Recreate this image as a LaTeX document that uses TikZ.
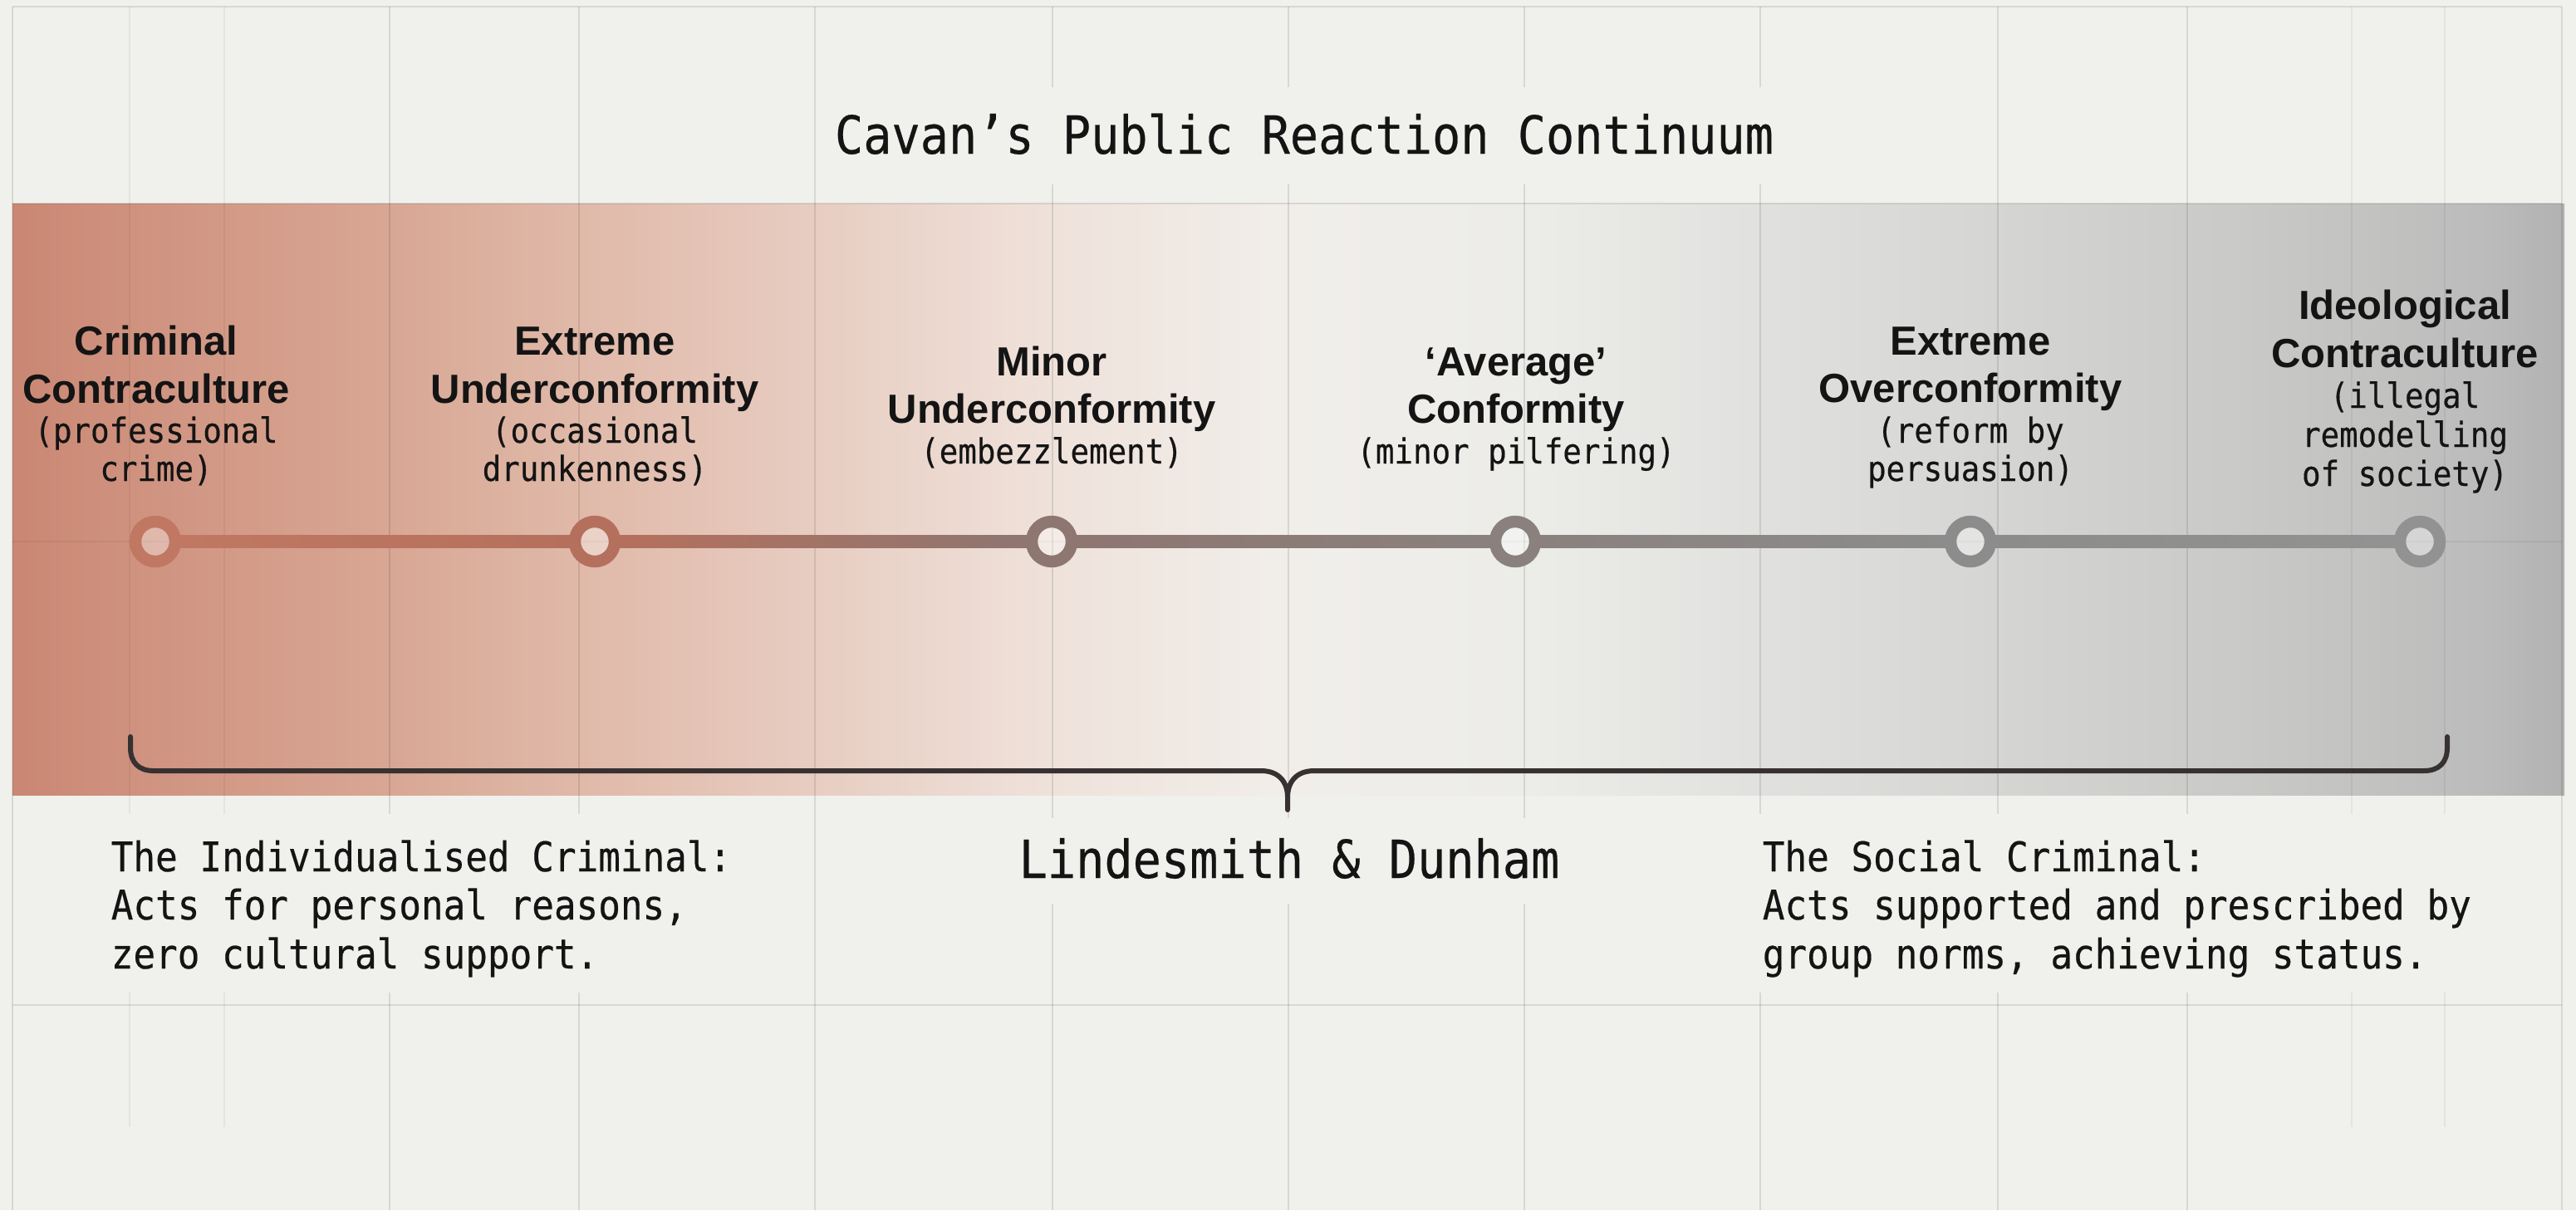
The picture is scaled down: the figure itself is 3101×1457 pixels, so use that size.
\documentclass[tikz,border=0pt]{standalone}
\usepackage{fontspec}
\setmainfont{Liberation Sans}
\newfontfamily\monof{DejaVu Sans Mono}[FakeStretch=0.9,FakeBold=0.4]
\usetikzlibrary{calc}
\definecolor{bg}{HTML}{F0F0EC}
\definecolor{ink}{HTML}{141414}
\definecolor{bracec}{HTML}{383131}
\definecolor{b0}{HTML}{CA8773}
\definecolor{b1}{HTML}{D09582}
\definecolor{b2}{HTML}{D8A794}
\definecolor{b3}{HTML}{E0B9A9}
\definecolor{b4}{HTML}{E8CEC3}
\definecolor{b5}{HTML}{EFE2DB}
\definecolor{b6}{HTML}{F1EEEA}
\definecolor{b7}{HTML}{ECECE9}
\definecolor{b8}{HTML}{E0E0DE}
\definecolor{b9}{HTML}{D5D5D3}
\definecolor{b10}{HTML}{C9C9C7}
\definecolor{b11}{HTML}{BCBCBC}
\definecolor{b12}{HTML}{B2B2B2}
\definecolor{r1}{HTML}{C07862}
\definecolor{r2}{HTML}{B5705D}
\definecolor{r3}{HTML}{8E7671}
\definecolor{r4}{HTML}{8A817E}
\definecolor{r5}{HTML}{8C8C8C}
\definecolor{r6}{HTML}{929292}
\pgfdeclarehorizontalshading{band}{100bp}{color(0bp)=(b0); color(25bp)=(b0); color(28bp)=(b1); color(32.4bp)=(b2); color(36.15bp)=(b3); color(41bp)=(b4); color(45.4bp)=(b5); color(50bp)=(b6); color(54.7bp)=(b7); color(59.4bp)=(b8); color(63.8bp)=(b9); color(68.7bp)=(b10); color(73.3bp)=(b11); color(75bp)=(b12); color(100bp)=(b12)}
\tikzset{
  gridl/.style={draw=black, draw opacity=0.10, line width=0.5pt},
  gridf/.style={draw=black, draw opacity=0.05, line width=0.5pt},
  ring/.style={circle, minimum size=12pt, inner sep=0pt, line width=3.6pt, fill=white, fill opacity=0.35},
  bracepath/.style={draw=bracec, line width=1.5pt, line cap=round},
  labtxt/.style={anchor=base, inner sep=0pt, text=ink, font=\bfseries\fontsize{12.25pt}{14pt}\selectfont},
  subtxt/.style={anchor=base, inner sep=0pt, text=ink, font=\monof\fontsize{10.4pt}{12pt}\selectfont},
  bodytxt/.style={anchor=base west, inner sep=0pt, text=ink, font=\monof\fontsize{12.3pt}{14pt}\selectfont},
  bigtxt/.style={anchor=base, inner sep=0pt, text=ink, font=\monof\fontsize{15.8pt}{18pt}\selectfont}
}
\begin{document}
\begin{tikzpicture}[x=0.25pt,y=-0.25pt]
\useasboundingbox (0,0) rectangle (3101,1457);
\fill[bg] (0,0) rectangle (3101,1457);
\shade[shading=band] (15,245) rectangle (3087,957);
% grid
\foreach \x in {15,469,697,981,1267,1551,1835,2119,2405,2633,3084}
  \draw[gridl] (\x,8) -- (\x,1457);
\foreach \x in {156,270,2831,2943}
  \draw[gridf] (\x,8) -- (\x,1357);
\foreach \y in {8,245,1210}
  \draw[gridl] (15,\y) -- (3084,\y);
\draw[gridf] (15,652) -- (3084,652);
% background patches behind texts
\fill[bg] (990,105) rectangle (2150,222);
\fill[bg] (115,980) rectangle (905,1195);
\fill[bg] (1205,985) rectangle (1900,1088);
\fill[bg] (2100,980) rectangle (2990,1195);
% title
\node[bigtxt] (title) at (1570,185) {Cavan’s Public Reaction Continuum};
% timeline points
\node[ring, draw=r1] (n1) at (187,652) {};
\node[ring, draw=r2] (n2) at (716,652) {};
\node[ring, draw=r3] (n3) at (1266,652) {};
\node[ring, draw=r4] (n4) at (1824,652) {};
\node[ring, draw=r5] (n5) at (2372,652) {};
\node[ring, draw=r6] (n6) at (2913,652) {};
\foreach \a/\b/\ca/\cb in {n1/n2/r1/r2, n2/n3/r2/r3, n3/n4/r3/r4, n4/n5/r4/r5, n5/n6/r5/r6}
  \shade[left color=\ca, right color=\cb] ([xshift=-0.8pt,yshift=1.875pt]\a.east) rectangle ([xshift=0.8pt,yshift=-1.875pt]\b.west);
% labels
\node[labtxt] (l1a) at (188,427) {Criminal};
\node[labtxt] (l1b) at (188,485) {Contraculture};
\node[subtxt] (l1c) at (188,533) {(professional};
\node[subtxt] (l1d) at (188,579) {crime)};
\node[labtxt] (l2a) at (716,427) {Extreme};
\node[labtxt] (l2b) at (716,485) {Underconformity};
\node[subtxt] (l2c) at (716,533) {(occasional};
\node[subtxt] (l2d) at (716,579) {drunkenness)};
\node[labtxt] (l3a) at (1266,452) {Minor};
\node[labtxt] (l3b) at (1266,509) {Underconformity};
\node[subtxt] (l3c) at (1266,558) {(embezzlement)};
\node[labtxt] (l4a) at (1825,452) {‘Average’};
\node[labtxt] (l4b) at (1825,509) {Conformity};
\node[subtxt] (l4c) at (1825,558) {(minor pilfering)};
\node[labtxt] (l5a) at (2372,427) {Extreme};
\node[labtxt] (l5b) at (2372,484) {Overconformity};
\node[subtxt] (l5c) at (2372,533) {(reform by};
\node[subtxt] (l5d) at (2372,579) {persuasion)};
\node[labtxt] (l6a) at (2895,384) {Ideological};
\node[labtxt] (l6b) at (2895,442) {Contraculture};
\node[subtxt] (l6c) at (2895,491) {(illegal};
\node[subtxt] (l6d) at (2895,538) {remodelling};
\node[subtxt] (l6e) at (2895,585) {of society)};
% brace
\coordinate (bl) at (157,887);
\coordinate (bt) at (1550,975);
\coordinate (br) at (2946,887);
\draw[bracepath] (bl) -- (157,900) .. controls (157,918) and (167,928) .. (185,928) -- (1518,928) .. controls (1540,928) and (1550,942) .. (1550,960) -- (bt);
\draw[bracepath] (1550,960) .. controls (1550,942) and (1560,928) .. (1582,928) -- (2918,928) .. controls (2936,928) and (2946,918) .. (2946,900) -- (br);
% bottom texts
\node[bigtxt] (ld) at (1552,1057) {Lindesmith \& Dunham};
\node[bodytxt] (ic1) at (133,1049) {The Individualised Criminal:};
\node[bodytxt] (ic2) at (133,1107) {Acts for personal reasons,};
\node[bodytxt] (ic3) at (133,1166) {zero cultural support.};
\node[bodytxt] (sc1) at (2121,1049) {The Social Criminal:};
\node[bodytxt] (sc2) at (2121,1107) {Acts supported and prescribed by};
\node[bodytxt] (sc3) at (2121,1166) {group norms, achieving status.};
\end{tikzpicture}
\end{document}
